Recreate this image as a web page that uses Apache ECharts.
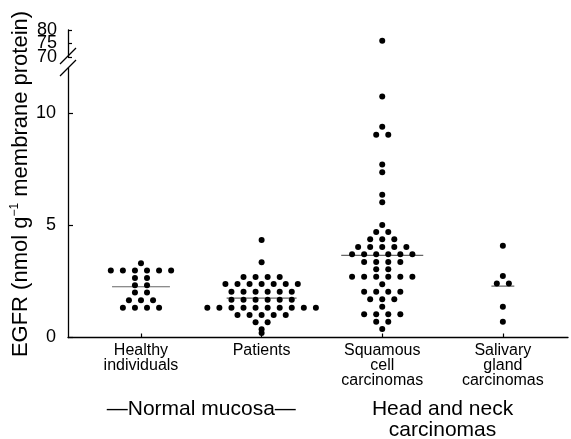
<!DOCTYPE html>
<html><head><meta charset="utf-8">
<script src="https://cdn.jsdelivr.net/npm/echarts@6/dist/echarts.min.js"></script>
<style>html,body{margin:0;padding:0;background:#fff}#c{width:571px;height:439px}</style>
</head><body><div id="c"></div>
<script>
// ---- data ----
const categories = ['Healthy\nindividuals', 'Patients', 'Squamous\ncell\ncarcinomas', 'Salivary\ngland\ncarcinomas'];
const groupLabels = ['\u2014Normal mucosa\u2014', 'Head and neck\ncarcinomas'];
const groupPositions = [0.5, 2.5];
const healthy = [3.31,
  2.98, 2.98, 2.98, 2.98, 2.98, 2.98,
  2.65, 2.65, 2.33, 2.33, 2.0, 2.0,
  1.66, 1.66, 1.66, 1.33, 1.33, 1.33, 1.33];
const patients = [4.34, 3.35,
  2.69, 2.69, 2.69, 2.69,
  2.38, 2.38, 2.38, 2.38, 2.38, 2.38, 2.38,
  2.04, 2.04, 2.04, 2.04, 2.04, 2.04,
  1.68, 1.68, 1.68, 1.68, 1.68, 1.68,
  1.33, 1.33, 1.33, 1.33, 1.33, 1.33, 1.33, 1.33, 1.33, 1.33,
  1.0, 1.0, 1.0, 1.0, 1.0,
  0.68, 0.68, 0.37, 0.2];
const squamous = [76, 10.73, 9.38, 9.03, 9.03, 7.70, 7.36, 6.36, 6.02, 5.01,
  4.70, 4.70, 4.37, 4.37, 4.37,
  4.03, 4.03, 4.03, 4.03, 4.03,
  3.71, 3.71, 3.71, 3.71, 3.71, 3.71,
  3.36, 3.36, 3.36, 3.36, 3.04, 3.04,
  2.71, 2.71, 2.71, 2.71, 2.71, 2.71,
  2.37, 2.04, 2.04, 2.04, 2.04,
  1.70, 1.70, 1.70, 1.37,
  1.03, 1.03, 1.03, 1.03, 0.70, 0.70, 0.38];
const salivary = [4.08, 2.74, 2.41, 2.41, 1.37, 0.70];
const medians = [2.26, 1.75, 3.66, 2.29];
const yTicksLower = [0, 5, 10];
const yTicksUpper = [70, 75, 80];
const yTitleMain1 = 'EGFR (nmol g';
const yTitleSup = '\u22121';
const yTitleMain2 = ' membrane protein)';

// ---- layout / style ----
const FONT = "'Liberation Sans', Arial, Helvetica, sans-serif";
const X_MIN = -0.605, X_MAX = 3.54;
const DOT_STEP = 0.1;
const BREAK_AT = 12;
const medianHalfWidth = [0.24, 0.29, 0.34, 0.095];
const groups = [healthy, patients, squamous, salivary];

function swarm(values, c) {
  const rows = new Map();
  values.forEach(v => { if (!rows.has(v)) rows.set(v, 0); rows.set(v, rows.get(v) + 1); });
  const pts = [];
  rows.forEach((n, v) => {
    for (let i = 0; i < n; i++) pts.push([c + (i - (n - 1) / 2) * DOT_STEP, v]);
  });
  return pts;
}

const lowerPts = [], upperPts = [];
groups.forEach((vals, c) => {
  swarm(vals, c).forEach(p => (p[1] > BREAK_AT ? upperPts : lowerPts).push(p));
});

const axisLineStyle = {color: '#000', width: 1.3};
const dotStyle = {color: '#000', opacity: 1};
const series = [
  {type: 'scatter', xAxisIndex: 0, yAxisIndex: 0, data: lowerPts, symbol: 'circle', symbolSize: 6,
   itemStyle: dotStyle, silent: true, z: 3},
  {type: 'scatter', xAxisIndex: 1, yAxisIndex: 1, data: upperPts, symbol: 'circle', symbolSize: 6,
   itemStyle: dotStyle, silent: true, z: 3}
];
medians.forEach((m, c) => {
  series.push({type: 'line', xAxisIndex: 0, yAxisIndex: 0, symbol: 'none', silent: true,
    data: [[c - medianHalfWidth[c], m], [c + medianHalfWidth[c], m]],
    lineStyle: {color: '#666', width: 1.2}, z: 1});
});

const chart = echarts.init(document.getElementById('c'));
chart.setOption({
  animation: false,
  grid: [
    {left: 68, right: 3, top: 68, height: 269.5},
    {left: 68, right: 3, top: 30, height: 27}
  ],
  xAxis: [
    {gridIndex: 0, type: 'value', min: X_MIN, max: X_MAX, splitLine: {show: false},
     axisLine: {onZero: false, lineStyle: axisLineStyle},
     axisTick: {inside: true, length: 4, customValues: [0, 1, 2, 3], lineStyle: {color: '#000', width: 1.2}},
     axisLabel: {customValues: [0, 1, 2, 3], formatter: v => categories[Math.round(v)],
       fontSize: 16, lineHeight: 15, color: '#000', margin: 6, fontFamily: FONT}},
    {gridIndex: 1, type: 'value', min: X_MIN, max: X_MAX, show: false}
  ],
  yAxis: [
    {gridIndex: 0, type: 'value', min: 0, max: BREAK_AT, splitLine: {show: false},
     axisLine: {show: true, onZero: false, lineStyle: axisLineStyle},
     axisTick: {show: true, inside: true, length: 5, customValues: yTicksLower, lineStyle: {color: '#000', width: 1.2}},
     axisLabel: {customValues: yTicksLower, fontSize: 18, color: '#000', margin: 12, fontFamily: FONT,
       showMinLabel: true, showMaxLabel: true}},
    {gridIndex: 1, type: 'value', min: 70, max: 80, splitLine: {show: false},
     axisLine: {show: true, onZero: false, lineStyle: axisLineStyle},
     axisTick: {show: true, inside: true, length: 4, customValues: yTicksUpper, lineStyle: {color: '#000', width: 1.2}},
     axisLabel: {show: false}}
  ],
  series: series
});

// decorations: upper tick labels, axis break slashes, y-axis title, group labels
const graphics = [];
yTicksUpper.forEach(v => {
  const p = chart.convertToPixel({xAxisIndex: 1, yAxisIndex: 1}, [X_MIN, v]);
  graphics.push({type: 'text', silent: true, x: p[0] - 11, y: p[1],
    style: {text: String(v), align: 'right', verticalAlign: 'middle', fontSize: 18,
      fontFamily: FONT, fill: '#000'}});
});
const pTop = chart.convertToPixel({xAxisIndex: 1, yAxisIndex: 1}, [X_MIN, 70]);
const pBot = chart.convertToPixel({xAxisIndex: 0, yAxisIndex: 0}, [X_MIN, BREAK_AT]);
const slash = (cx, cy) => ({type: 'line', silent: true, z: 10,
  shape: {x1: cx - 8, y1: cy + 8, x2: cx + 8, y2: cy - 8},
  style: {stroke: '#000', lineWidth: 1.3}});
graphics.push(slash(pTop[0], pTop[1] - 1), slash(pBot[0], pBot[1]));

const pZero = chart.convertToPixel({xAxisIndex: 0, yAxisIndex: 0}, [X_MIN, 0]);
graphics.push({type: 'text', silent: true, x: 21, y: 184, rotation: Math.PI / 2,
  style: {text: '{m|' + yTitleMain1 + '}{s|' + yTitleSup + '}{m|' + yTitleMain2 + '}',
    align: 'center', verticalAlign: 'middle', fill: '#000',
    rich: {m: {fontSize: 22, fontFamily: FONT, lineHeight: 24, fill: '#000'},
           s: {fontSize: 12, fontFamily: FONT, lineHeight: 13, verticalAlign: 'top', fill: '#000'}}}});

groupLabels.forEach((t, i) => {
  const p = chart.convertToPixel({xAxisIndex: 0, yAxisIndex: 0}, [groupPositions[i], 0]);
  graphics.push({type: 'text', silent: true, x: p[0], y: pZero[1] + 61,
    style: {text: t, align: 'center', verticalAlign: 'top', fontSize: 21, lineHeight: 21,
      fontFamily: FONT, fill: '#000'}});
});
chart.setOption({graphic: graphics});
</script>
</body></html>
